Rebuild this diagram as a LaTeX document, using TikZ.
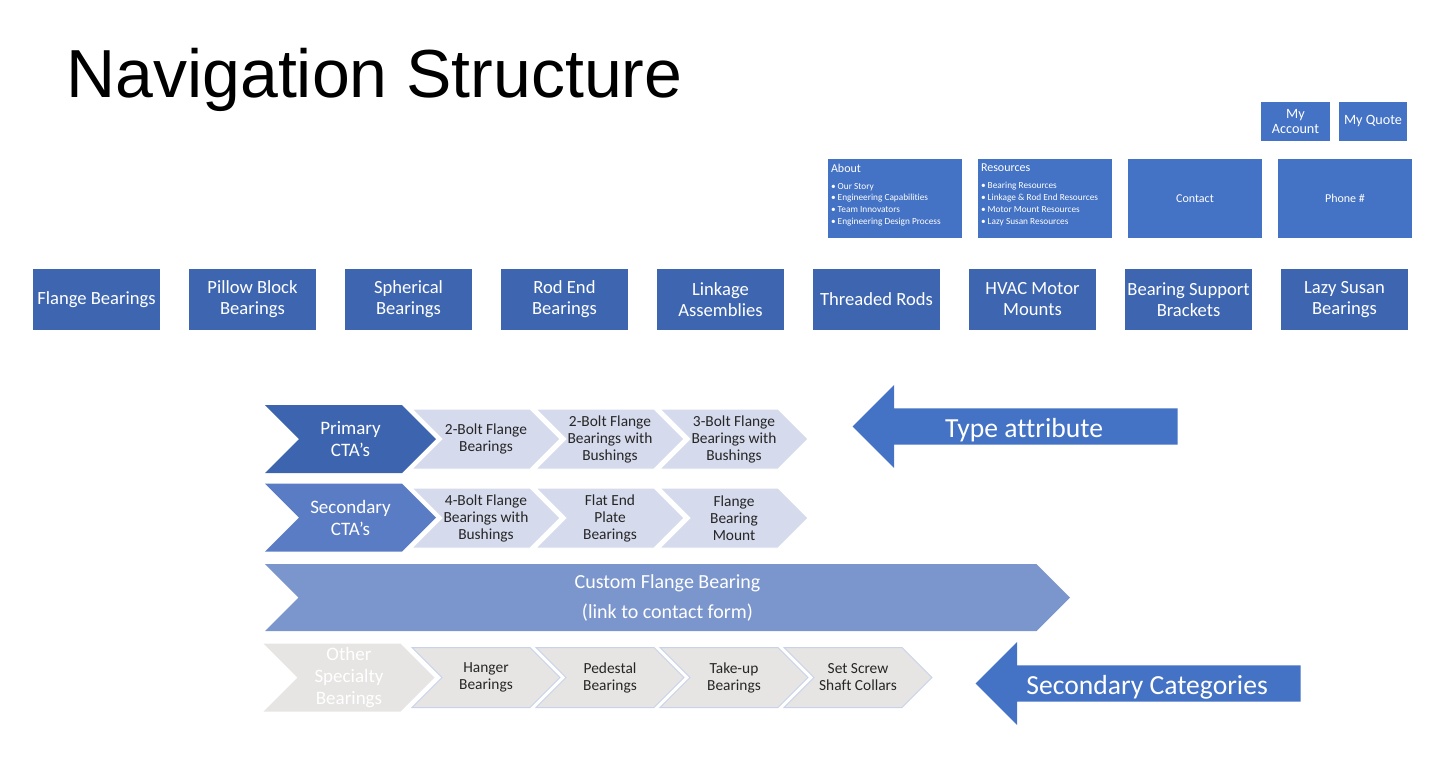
\documentclass[tikz,border=0pt]{standalone}
\usepackage{fontspec}
\setmainfont{Carlito}[Ligatures={TeX,NoCommon}]
\newfontfamily\titlefont{Liberation Sans}
\usepackage{tikz}
\usetikzlibrary{positioning,shapes.symbols,shapes.arrows}

\definecolor{topblue}{HTML}{4472C4}
\definecolor{catblue}{HTML}{3E66B0}
\definecolor{primblue}{HTML}{3D64AF}
\definecolor{secblue}{HTML}{5A7CC4}
\definecolor{custblue}{HTML}{7B96CD}
\definecolor{lightchev}{HTML}{D5DAED}
\definecolor{greyfill}{HTML}{E7E5E3}
\definecolor{greyline}{HTML}{C8D2EA}
\definecolor{darktext}{HTML}{262626}

\begin{document}
\begin{tikzpicture}[x=0.5pt, y=-0.5pt,
  topbox/.style={fill=topblue, text=white, inner sep=0pt, align=center, font=\fontsize{7.1}{7.4}\selectfont},
  catbox/.style={fill=catblue, text=white, inner sep=0pt, align=center, minimum width=63.5pt, minimum height=30.5pt, font=\fontsize{9.3}{10.5}\selectfont},
  chev/.style={shape=signal, signal to=east, signal from=west, inner sep=0pt, align=center},
  bigchev/.style={chev, minimum width=85.5pt, minimum height=34pt, text=white, font=\fontsize{9.5}{11}\selectfont},
  smallchev/.style={chev, minimum width=74pt, minimum height=30pt, fill=lightchev, draw=white, line width=0.5pt, text=darktext, font=\fontsize{7.7}{8.5}\selectfont},
  greychev/.style={smallchev, fill=greyfill, draw=greyline},
  bigarrow/.style={single arrow, shape border rotate=180, fill=topblue, text=white, inner xsep=0pt, inner ysep=2.25pt, text height=12.2pt, text depth=1pt, minimum height=162.5pt, minimum width=41.5pt, single arrow head extend=11.75pt, font=\fontsize{13.8}{15}\selectfont}
]
\useasboundingbox (0,0) rectangle (1432,783);

% Title
\node[anchor=base west, inner sep=0pt, font=\titlefont\fontsize{34}{40}\selectfont] (title) at (66,97) {Navigation Structure};

% Utility links
\node[topbox, minimum width=34.5pt, minimum height=19.5pt] (account) at (1295.5,121.5) {My\\Account};
\node[topbox, minimum width=34pt, minimum height=19.5pt] (quote) at (1373,121.5) {My Quote};

\node[topbox, minimum width=67pt, minimum height=39.5pt] (about) at (895,198.5) {};
\node[topbox, minimum width=67pt, minimum height=39.5pt] (resources) at (1045,198.5) {};
\node[topbox, minimum width=67pt, minimum height=39.5pt, font=\fontsize{6}{7}\selectfont] (contact) at (1195,198.5) {Contact};
\node[topbox, minimum width=67pt, minimum height=39.5pt, font=\fontsize{6}{7}\selectfont] (phone) at (1345,198.5) {Phone \#};

\node[anchor=north west, inner sep=0pt, text=white, font=\fontsize{6}{7}\selectfont] (abouthd) at ([xshift=1.5pt,yshift=-2.5pt]about.north west) {About};
\node[anchor=north west, inner sep=0pt, text=white, align=left, font=\fontsize{4.65}{5.85}\selectfont] (aboutlst) at ([yshift=-5pt]abouthd.south west)
  {\textbullet\ Our Story\\\textbullet\ Engineering Capabilities\\\textbullet\ Team Innovators\\\textbullet\ Engineering Design Process};
\node[anchor=north west, inner sep=0pt, text=white, font=\fontsize{6}{7}\selectfont] (reshd) at ([xshift=1.5pt,yshift=-2.5pt]resources.north west) {Resources};
\node[anchor=north west, inner sep=0pt, text=white, align=left, font=\fontsize{4.65}{5.85}\selectfont] (reslst) at ([yshift=-5pt]reshd.south west)
  {\textbullet\ Bearing Resources\\\textbullet\ Linkage \& Rod End Resources\\\textbullet\ Motor Mount Resources\\\textbullet\ Lazy Susan Resources};

% Product categories
\node[catbox] (flange) at (96.5,299.5) {Flange Bearings};
\node[catbox, right=14.1pt of flange] (pillow) {Pillow Block\\Bearings};
\node[catbox, right=14.1pt of pillow] (spherical) {Spherical\\Bearings};
\node[catbox, right=14.1pt of spherical] (rodend) {Rod End\\Bearings};
\node[catbox, right=14.1pt of rodend] (linkage) {Linkage\\Assemblies};
\node[catbox, right=14.1pt of linkage] (threaded) {Threaded Rods};
\node[catbox, right=14.1pt of threaded] (hvac) {HVAC Motor\\Mounts};
\node[catbox, right=14.1pt of hvac] (support) {Bearing Support\\Brackets};
\node[catbox, right=14.1pt of support] (lazy) {Lazy Susan\\Bearings};

% Flange bearing page
\node[bigchev, fill=primblue] (primary) at (350.5,439) {Primary\\CTA’s};
\node[smallchev] (twobolt) at (486,439) {2-Bolt Flange\\Bearings};
\node[smallchev] (twoboltb) at (610,439) {2-Bolt Flange\\Bearings with\\Bushings};
\node[smallchev] (threeboltb) at (734,439) {3-Bolt Flange\\Bearings with\\Bushings};

\node[bigchev, fill=secblue] (secondary) at (350.5,517.5) {Secondary\\CTA’s};
\node[smallchev] (fourboltb) at (486,518) {4-Bolt Flange\\Bearings with\\Bushings};
\node[smallchev] (flatend) at (610,518) {Flat End\\Plate\\Bearings};
\node[smallchev] (mount) at (734,518) {Flange\\Bearing\\Mount};

\node[chev, minimum width=402.5pt, minimum height=33.5pt, fill=custblue, text=white, font=\fontsize{10}{15}\selectfont] (custom) at (667.5,597.5) {Custom Flange Bearing\\(link to contact form)};

\node[bigchev, fill=greyfill] (other) at (349,677.5) {Other\\Specialty\\Bearings};
\node[greychev] (hanger) at (486,677.5) {Hanger\\Bearings};
\node[greychev] (pedestal) at (610,677.5) {Pedestal\\Bearings};
\node[greychev] (takeup) at (734,677.5) {Take-up\\Bearings};
\node[greychev] (setscrew) at (858,677.5) {Set Screw\\Shaft Collars};

% Callouts
\node[bigarrow, anchor=tip] (typeattr) at (852,426.5) {Type attribute};
\node[bigarrow, anchor=tip] (seccat) at (975,683.5) {Secondary Categories};

\end{tikzpicture}
\end{document}
